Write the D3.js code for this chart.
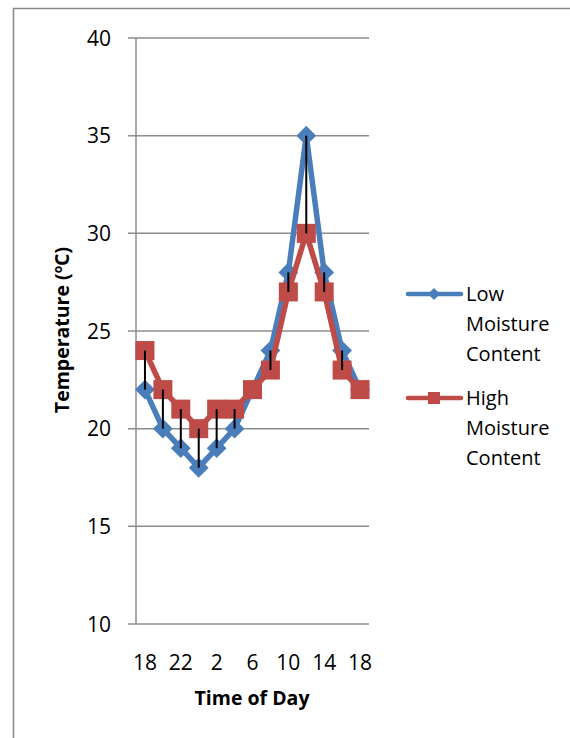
<!DOCTYPE html>
<html><head><meta charset="utf-8">
<script src="https://cdn.jsdelivr.net/npm/d3@7"></script>
<style>body{margin:0;background:#fff}svg{display:block}</style>
</head><body>
<svg id="c" width="570" height="738"></svg>
<script>
const categories = ["18","20","22","0","2","4","6","8","10","12","14","16","18b"];
const tickLabels = ["18","22","2","6","10","14","18"];
const lowMoisture = [22,20,19,18,19,20,22,24,28,35,28,24,22];
const highMoisture = [24,22,21,20,21,21,22,23,27,30,27,23,22];
const yTicks = [10,15,20,25,30,35,40];

const svg = d3.select("#c");
const font = "'Open Sans', Lato, sans-serif";
const L = 136, R = 369, T = 38, B = 624;
const x = d3.scaleBand().domain(categories).range([L, R]);
const y = d3.scaleLinear().domain([10, 40]).range([B, T]);
const blue = "#4A7EBB", red = "#BE4B48";

// outer border
svg.append("path").attr("d", "M13.5,738 V8.5 H570").attr("fill","none").attr("stroke","#888").attr("stroke-width",1.5);

// gridlines
svg.append("g").selectAll("line").data(yTicks).join("line")
  .attr("x1", L-8).attr("x2", R).attr("y1", d=>y(d)).attr("y2", d=>y(d))
  .attr("stroke", "#8c8c8c").attr("stroke-width", 1.5);
svg.append("line").attr("x1", L).attr("x2", L).attr("y1", T).attr("y2", B).attr("stroke","#8c8c8c").attr("stroke-width",1.5);

// y tick labels
svg.append("g").selectAll("text").data(yTicks).join("text")
  .attr("x", 111).attr("y", d=>y(d)).attr("dy","0.36em").attr("text-anchor","end")
  .attr("font-family", font).attr("font-size", 21).attr("fill","#000").text(d=>d);

// x tick labels
const labelCats = categories.filter((d,i)=>i%2===0);
svg.append("g").selectAll("text").data(labelCats).join("text")
  .attr("x", (d)=>x(d)+x.bandwidth()/2).attr("y", 670).attr("text-anchor","middle")
  .attr("font-family", font).attr("font-size", 21).attr("fill","#000")
  .text((d,i)=>tickLabels[i]);

// axis titles
svg.append("text").attr("x", 252).attr("y", 705).attr("text-anchor","middle")
  .attr("font-family", font).attr("font-size", 19.5).attr("font-weight","bold").text("Time of Day");
const yt = svg.append("text").attr("transform","translate(69,330) rotate(-90)").attr("text-anchor","middle")
  .attr("font-family", font).attr("font-size", 19.5).attr("font-weight","bold");
yt.append("tspan").text("Temperature (");
yt.append("tspan").attr("font-size", 12).attr("dy", -7).text("o");
yt.append("tspan").attr("dy", 7).text("C)");

const cx = d => x(d) + x.bandwidth()/2;
const line = d3.line().x(d=>cx(d[0])).y(d=>y(d[1]));
const lowPts = categories.map((c,i)=>[c, lowMoisture[i]]);
const highPts = categories.map((c,i)=>[c, highMoisture[i]]);

svg.append("path").attr("d", line(lowPts)).attr("fill","none").attr("stroke", blue).attr("stroke-width",5.5).attr("stroke-linejoin","round");
svg.append("g").selectAll("path").data(lowPts).join("path")
  .attr("d", d3.symbol(d3.symbolSquare, 196)()).attr("transform", d=>`translate(${cx(d[0])},${y(d[1])}) rotate(45)`).attr("fill", blue);

svg.append("path").attr("d", line(highPts)).attr("fill","none").attr("stroke", red).attr("stroke-width",5.5).attr("stroke-linejoin","round");
svg.append("g").selectAll("rect").data(highPts).join("rect")
  .attr("x", d=>cx(d[0])-9.5).attr("y", d=>y(d[1])-9.5).attr("width",19).attr("height",19).attr("fill", red);

// high-low lines
svg.append("g").selectAll("line").data(categories).join("line")
  .attr("x1", d=>cx(d)).attr("x2", d=>cx(d))
  .attr("y1", (d,i)=>y(lowMoisture[i])).attr("y2", (d,i)=>y(highMoisture[i]))
  .attr("stroke","#000").attr("stroke-width",2);

// legend
const leg = [{name:["Low","Moisture","Content"], color: blue, sym:"d", y:294},
             {name:["High","Moisture","Content"], color: red, sym:"s", y:398}];
leg.forEach(l=>{
  svg.append("line").attr("x1",408).attr("x2",461).attr("y1",l.y).attr("y2",l.y).attr("stroke",l.color).attr("stroke-width",4.5).attr("stroke-linecap","round");
  if (l.sym==="d") svg.append("path").attr("d", d3.symbol(d3.symbolSquare, 72)()).attr("transform",`translate(434,${l.y}) rotate(45)`).attr("fill",l.color);
  else svg.append("rect").attr("x",428).attr("y",l.y-6).attr("width",12).attr("height",12).attr("fill",l.color);
  const t = svg.append("text").attr("font-family",font).attr("font-size",20).attr("fill","#000");
  l.name.forEach((s,i)=>t.append("tspan").attr("x",466).attr("y",l.y+7+i*30).text(s));
});
</script>
</body></html>
